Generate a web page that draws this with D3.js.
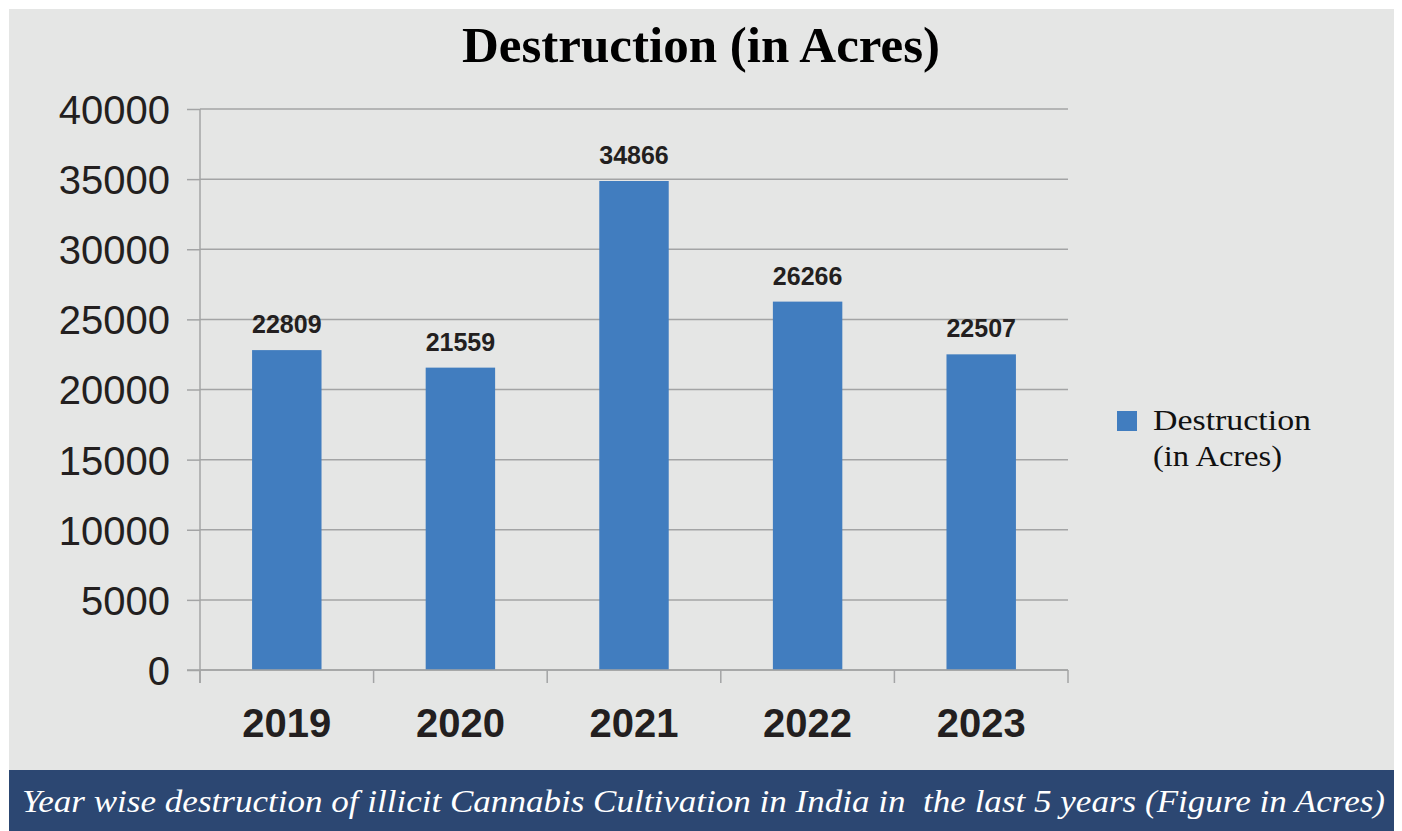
<!DOCTYPE html>
<html>
<head>
<meta charset="utf-8">
<script src="https://cdn.jsdelivr.net/npm/d3@7"></script>
<style>
  body { margin: 0; background: #ffffff; }
  svg { display: block; }
</style>
</head>
<body>
<div id="chart"></div>
<script>
// --- DATA ---
const years = ["2019", "2020", "2021", "2022", "2023"];
const acres = [22809, 21559, 34866, 26266, 22507];
const yTicks = [0, 5000, 10000, 15000, 20000, 25000, 30000, 35000, 40000];
const titleText = "Destruction (in Acres)";
const legendLines = ["Destruction", "(in Acres)"];
const captionText = "Year wise destruction of illicit Cannabis Cultivation in India in  the last 5 years (Figure in Acres)";

const W = 1402, H = 831;
const barColor = "#417dbf";
const gridColor = "#a3a4a5";

const svg = d3.select("#chart").append("svg")
    .attr("width", W)
    .attr("height", H);

// panel + caption bar
svg.append("rect").attr("x", 9).attr("y", 9).attr("width", 1385).attr("height", 761).attr("fill", "#e5e6e5");
svg.append("rect").attr("x", 9).attr("y", 770).attr("width", 1385).attr("height", 61).attr("fill", "#2c4772");

// --- SCALES ---
const x = d3.scaleBand()
    .domain(years)
    .range([200, 1068])
    .paddingInner(0.6)
    .paddingOuter(0.3);

const y = d3.scaleLinear()
    .domain([0, 40000])
    .range([670, 109]);

// --- GRID + Y AXIS ---
const yAxis = svg.append("g")
    .attr("transform", "translate(200,0)")
    .call(d3.axisLeft(y).tickValues(yTicks).tickSize(13).tickPadding(17).tickFormat(d3.format("d")));
yAxis.select(".domain").remove();
yAxis.selectAll(".tick line").attr("stroke", gridColor).attr("stroke-width", 1.5);
yAxis.selectAll(".tick text")
    .attr("fill", "#231f20")
    .style("font-family", "'Liberation Sans', Arial, sans-serif")
    .style("font-size", "40px")
    .attr("dy", "0.36em");

svg.append("g").selectAll("line.grid")
    .data(yTicks)
    .enter().append("line")
    .attr("class", "grid")
    .attr("x1", 200).attr("x2", 1068)
    .attr("y1", d => y(d)).attr("y2", d => y(d))
    .attr("stroke", gridColor)
    .attr("stroke-width", 1.5);

svg.append("line")
    .attr("x1", 200).attr("x2", 200)
    .attr("y1", y(40000)).attr("y2", 683)
    .attr("stroke", gridColor).attr("stroke-width", 1.5);

// --- BARS ---
svg.selectAll(".bar")
    .data(years)
    .enter().append("rect")
    .attr("class", "bar")
    .attr("x", d => x(d))
    .attr("width", x.bandwidth())
    .attr("y", (d, i) => y(acres[i]))
    .attr("height", (d, i) => y(0) - y(acres[i]))
    .attr("fill", barColor);

// value labels
svg.selectAll(".val")
    .data(years)
    .enter().append("text")
    .attr("class", "val")
    .attr("x", d => x(d) + x.bandwidth() / 2)
    .attr("y", (d, i) => y(acres[i]) - 17)
    .attr("text-anchor", "middle")
    .attr("fill", "#231f20")
    .style("font-family", "'Liberation Sans', Arial, sans-serif")
    .style("font-weight", "bold")
    .style("font-size", "25px")
    .text((d, i) => acres[i]);

// --- X AXIS ---
const xAxis = svg.append("g")
    .attr("transform", "translate(0,670)");
xAxis.append("line")
    .attr("x1", 187).attr("x2", 1068)
    .attr("stroke", gridColor).attr("stroke-width", 1.5);
const step = x.step();
const bounds = d3.range(years.length + 1).map(i => 200 + i * step);
xAxis.selectAll(".xt")
    .data(bounds)
    .enter().append("line")
    .attr("x1", d => d).attr("x2", d => d)
    .attr("y1", 0).attr("y2", 13)
    .attr("stroke", gridColor).attr("stroke-width", 1.5);
xAxis.selectAll(".xl")
    .data(years)
    .enter().append("text")
    .attr("x", d => x(d) + x.bandwidth() / 2)
    .attr("y", 67)
    .attr("text-anchor", "middle")
    .attr("fill", "#231f20")
    .style("font-family", "'Liberation Sans', Arial, sans-serif")
    .style("font-weight", "bold")
    .style("font-size", "40px")
    .text(d => d);

// --- TITLE ---
svg.append("text")
    .attr("x", 701)
    .attr("y", 62)
    .attr("text-anchor", "middle")
    .attr("fill", "#000")
    .style("font-family", "'Liberation Serif', 'Times New Roman', serif")
    .style("font-weight", "bold")
    .style("font-size", "50px")
    .attr("textLength", 478)
    .attr("lengthAdjust", "spacingAndGlyphs")
    .text(titleText);

// --- LEGEND ---
svg.append("rect")
    .attr("x", 1117).attr("y", 411)
    .attr("width", 20).attr("height", 20)
    .attr("fill", barColor);
svg.selectAll(".leg")
    .data(legendLines)
    .enter().append("text")
    .attr("x", 1153)
    .attr("y", (d, i) => 430 + i * 36)
    .attr("fill", "#111")
    .style("font-family", "'Liberation Serif', 'Times New Roman', serif")
    .style("font-size", "30px")
    .attr("textLength", (d, i) => i === 0 ? 158 : 129)
    .attr("lengthAdjust", "spacingAndGlyphs")
    .text(d => d);

// --- CAPTION ---
svg.append("text")
    .attr("x", 22)
    .attr("y", 812)
    .attr("fill", "#ffffff")
    .style("font-family", "'Liberation Serif', 'Times New Roman', serif")
    .style("font-style", "italic")
    .style("font-size", "32px")
    .style("white-space", "pre")
    .attr("textLength", 1363)
    .attr("lengthAdjust", "spacingAndGlyphs")
    .text(captionText);
</script>
</body>
</html>
